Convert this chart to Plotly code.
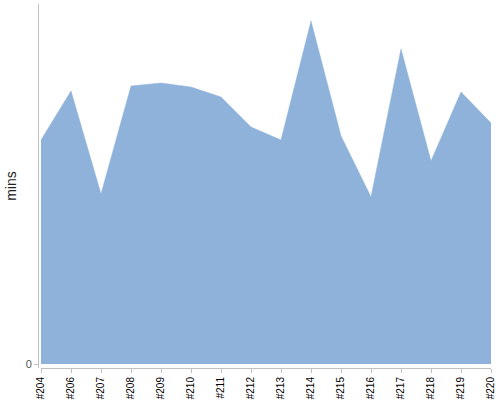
import plotly.graph_objects as go

builds = ["#204", "#206", "#207", "#208", "#209", "#210", "#211", "#212",
          "#213", "#214", "#215", "#216", "#217", "#218", "#219", "#220"]
duration_mins = [22.4, 27.3, 17.0, 27.8, 28.1, 27.7, 26.7, 23.7,
                 22.4, 34.3, 22.8, 16.7, 31.5, 20.3, 27.2, 24.1]

fill_color = "#8fb2da"
axis_color = "#c0c0c0"

fig = go.Figure()
fig.add_trace(go.Scatter(
    x=list(range(len(builds))),
    y=duration_mins,
    mode="lines",
    fill="tozeroy",
    fillcolor=fill_color,
    line=dict(color=fill_color, width=0.5),
    hoverinfo="skip",
))

fig.update_layout(
    width=500,
    height=400,
    margin=dict(l=38, r=9, t=4, b=32, autoexpand=False),
    paper_bgcolor="white",
    plot_bgcolor="white",
    showlegend=False,
    font=dict(family="Liberation Sans, Arial, sans-serif", color="#000"),
    xaxis=dict(
        domain=[3 / 453, 1],
        range=[0, len(builds) - 1],
        tickvals=list(range(len(builds))),
        ticktext=builds,
        tickangle=-90,
        tickfont=dict(size=10),
        ticks="outside",
        ticklen=4,
        tickcolor=axis_color,
        showline=True,
        linecolor=axis_color,
        linewidth=1,
        showgrid=False,
        zeroline=False,
        automargin=False,
    ),
    yaxis=dict(
        anchor="free",
        position=0,
        range=[-0.4, 36],
        tickvals=[0],
        ticktext=["0"],
        tickfont=dict(size=11, color="#555"),
        ticks="outside",
        ticklen=4,
        tickcolor=axis_color,
        showline=True,
        linecolor=axis_color,
        linewidth=1,
        showgrid=False,
        zeroline=False,
        automargin=False,
        title=dict(text="mins", font=dict(size=14, color="#222"), standoff=4),
    ),
)

# the page body has a default 8px margin; drop it so the 500x400 figure fits
fig.write_html(
    "out.html",
    config={"displayModeBar": False},
    post_script="document.body.style.margin = '0';",
)
